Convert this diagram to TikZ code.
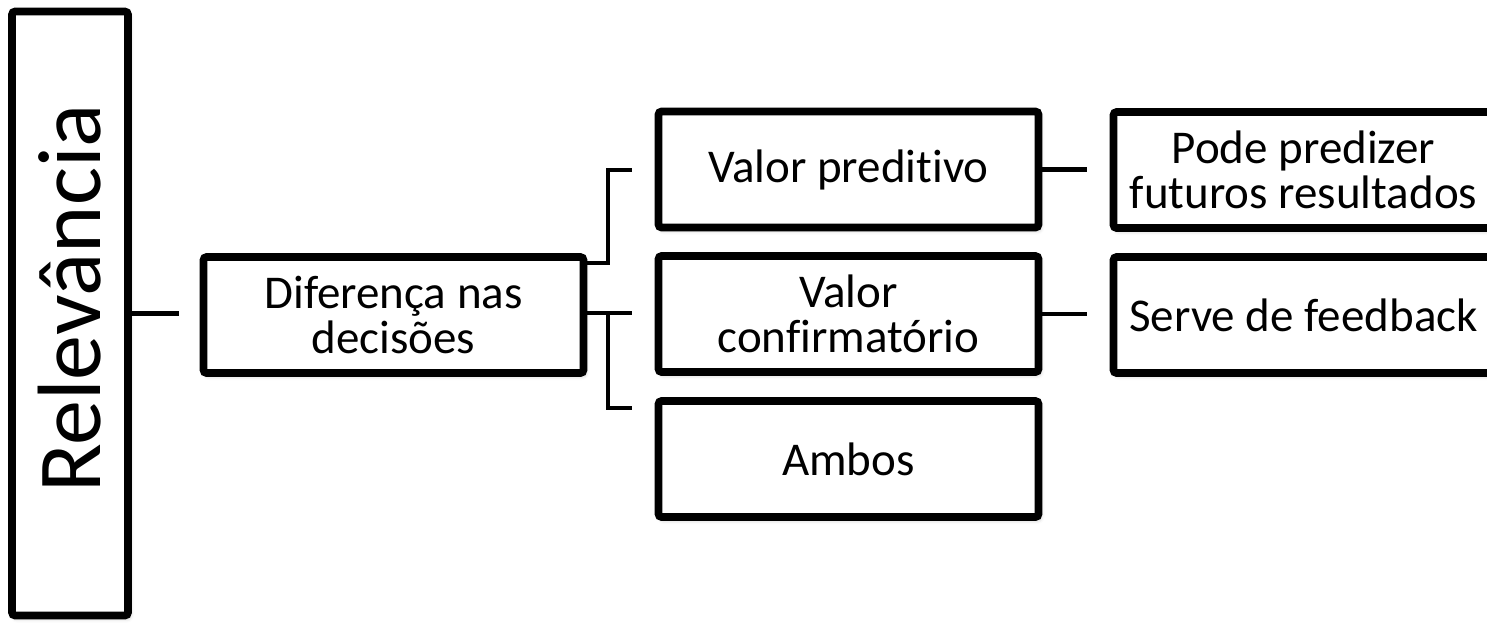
\documentclass[tikz,border=0pt]{standalone}
\usepackage{fontspec}
\setmainfont{Carlito}[Ligatures=CommonOff]
\usetikzlibrary{positioning,shadows.blur}

\tikzset{
  bloco/.style={draw=black, line width=3.8pt, fill=white, rounded corners=1.5pt,
    align=center, minimum width=190pt, minimum height=58pt, inner sep=0pt,
    font=\fontsize{23.5}{22.5}\selectfont,
    blur shadow={shadow xshift=1pt, shadow yshift=-1.5pt, shadow blur radius=2pt, shadow opacity=25}},
  liga/.style={line width=2.2pt, black}
}

\begin{document}
\begin{tikzpicture}[x=0.5pt, y=-0.5pt]

% Frame (pixel grid of the page)
\useasboundingbox (0,0) rectangle (1487,622);
\clip (0,0) rectangle (1487,622);

% Main box, vertical text
\node[bloco, rotate=90, minimum width=302pt, minimum height=58pt,
      font=\fontsize{45}{48}\selectfont] (rel) at (70,313.5) {\hspace*{15pt}Relevância};

% Second level
\node[bloco] (diff) at (393.5,315) {Diferença nas\\decisões};

% Third level
\node[bloco] (preditivo) at (848.5,169.5) {Valor preditivo};
\node[bloco] (confirm) at (848.5,314) {Valor\\confirmatório};
\node[bloco] (ambos) at (848.5,459) {Ambos};

% Fourth level (cut at the right edge)
\node[bloco] (predizer) at (1303.5,170) {Pode predizer\\futuros resultados};
\node[bloco] (feedback) at (1303.5,315) {Serve de feedback};

% Free ends of the connectors
\coordinate (garfo) at (608,313);
\coordinate (fimPred) at (632,170);
\coordinate (fimConf) at (632,313);
\coordinate (fimAmb) at (632,408);

% Connectors
\draw[liga] (rel.south) -- ++(47,0);
\draw[liga] ([yshift=26pt]diff.east) -| (garfo |- fimPred) -- (fimPred);
\draw[liga] (diff.east |- garfo) -- (fimConf);
\draw[liga] (garfo) |- (fimAmb);
\draw[liga] (preditivo.east) -- ++(45,0);
\draw[liga] (confirm.east) -- ++(45,0);

\end{tikzpicture}
\end{document}
